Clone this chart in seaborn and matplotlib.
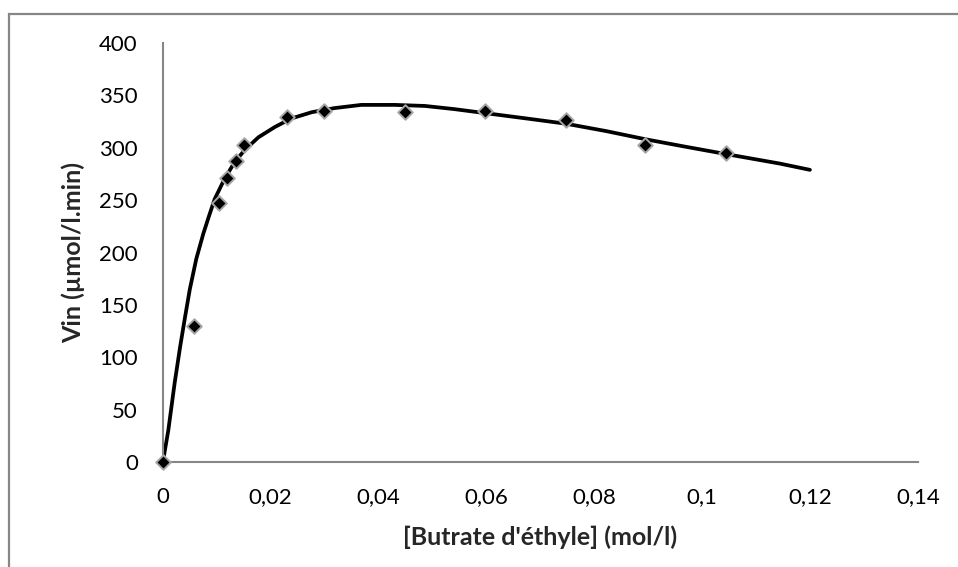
import numpy as np
import pandas as pd
import seaborn as sns
import matplotlib.pyplot as plt
from matplotlib.patches import Rectangle

# mesures (points)
butyrate = [0, 0.0058, 0.0104, 0.0119, 0.0135, 0.0150, 0.0231, 0.0298,
            0.0449, 0.0597, 0.0747, 0.0895, 0.1045]
vin = [0, 130, 247, 271, 287, 303, 329, 335, 334, 335, 327, 303, 295]

# courbe ajustée
courbe_x = [0, 0.0010, 0.0016, 0.0022, 0.0032, 0.0041, 0.0050, 0.0062, 0.0075,
            0.0085, 0.0096, 0.0115, 0.0134, 0.0152, 0.0177, 0.0208, 0.0238,
            0.0276, 0.0319, 0.0368, 0.0430, 0.0486, 0.0540, 0.0600, 0.0675,
            0.0748, 0.0822, 0.0897, 0.0970, 0.1045, 0.1144, 0.1200]
courbe_y = [0, 30, 53, 76, 110, 138, 165, 194, 218, 234, 251, 271, 287, 298,
            310, 320, 328, 334, 338, 341, 341, 340, 337, 333, 328, 323, 316,
            308, 301, 294, 285, 279]

xticks = [0, 0.02, 0.04, 0.06, 0.08, 0.1, 0.12, 0.14]
xtick_labels = ['0', '0,02', '0,04', '0,06', '0,08', '0,1', '0,12', '0,14']
yticks = [0, 50, 100, 150, 200, 250, 300, 350, 400]

pts = pd.DataFrame({'x': butyrate, 'y': vin})
fit = pd.DataFrame({'x': courbe_x, 'y': courbe_y})

sns.set_style('white')
plt.rcParams['font.family'] = ['Lato', 'DejaVu Sans']

fig = plt.figure(figsize=(9.58, 5.67), dpi=100)
ax = fig.add_axes([0.170, 0.185, 0.788, 0.739])

gris = '#868686'
sns.lineplot(data=fit, x='x', y='y', ax=ax, color='black', linewidth=2.7,
             sort=False, estimator=None)
sns.scatterplot(data=pts, x='x', y='y', ax=ax, marker='D', s=55,
                color='black', edgecolor='#a6a6a6', linewidth=1.4,
                clip_on=False, zorder=5)

ax.set_xlim(0, 0.14)
ax.set_ylim(0, 400)
ax.set_xticks(xticks)
ax.set_xticklabels(xtick_labels)
ax.set_yticks(yticks)
ax.tick_params(axis='both', direction='out', length=6, width=1.2, color=gris,
               labelsize=16, labelcolor='black', pad=12)
ax.tick_params(axis='x', pad=12)

for s in ['top', 'right']:
    ax.spines[s].set_visible(False)
for s in ['left', 'bottom']:
    ax.spines[s].set_color(gris)
    ax.spines[s].set_linewidth(1.5)

ax.set_xlabel("[Butrate d'éthyle] (mol/l)", fontsize=18, fontweight='bold',
              labelpad=13)
ax.set_ylabel('Vin (µmol/l.min)', fontsize=18, fontweight='bold', labelpad=10)

# cadre du graphique (coupé à droite et en bas)
fig.patches.append(Rectangle((8.5 / 958, -0.1), 1.2, 1 - 13.5 / 567 + 0.1,
                             transform=fig.transFigure, fill=False,
                             edgecolor=gris, linewidth=1.6))

fig.savefig('out.png', dpi=100)
